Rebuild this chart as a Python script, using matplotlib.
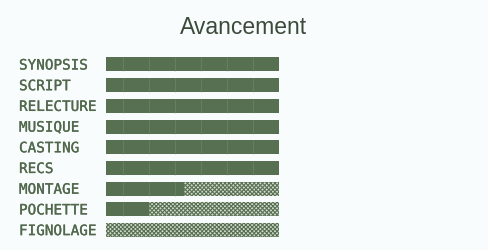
import matplotlib
matplotlib.use("Agg")
import matplotlib.pyplot as plt
import matplotlib.patheffects as pe

# Project progress per stage (percent complete)
stages = ["SYNOPSIS", "SCRIPT", "RELECTURE", "MUSIQUE", "CASTING",
          "RECS", "MONTAGE", "POCHETTE", "FIGNOLAGE"]
progress = [100, 100, 100, 100, 100, 100, 45, 25, 0]
total = 100
grid_ticks = [10, 25, 40, 55, 70, 85]

bg = "#f8fcfc"
done_color = "#587052"
todo_color = "#d2dbcf"
text_color = "#51684d"
title_color = "#3b4a39"
bar_h = 0.68

plt.rcParams["hatch.linewidth"] = 0.8
plt.rcParams["hatch.color"] = done_color

fig = plt.figure(figsize=(4.89, 2.51), dpi=100, facecolor=bg)
ax = fig.add_axes([106 / 489, 1 - 241.4 / 251, 173 / 489, 186.3 / 251])
ax.set_facecolor(bg)

ys = list(range(len(stages)))
remaining = [total - p for p in progress]
ax.barh(ys, progress, height=bar_h, color=done_color, linewidth=0, zorder=2)
ax.barh(ys, remaining, left=progress, height=bar_h, color=todo_color,
        edgecolor=done_color, hatch="xxxxxxxx", linewidth=0, zorder=2)

# faint segment separators, drawn only across each bar
for y in ys:
    ax.vlines(grid_ticks, y - bar_h / 2, y + bar_h / 2, color="#7a9075",
              lw=0.6, alpha=0.55, zorder=3)

ax.set_xlim(0, total)
ax.set_ylim(len(stages) - 0.5, -0.5)
ax.set_xticks([])
ax.set_yticks([])
for s in ax.spines.values():
    s.set_visible(False)

thicken = [pe.withStroke(linewidth=0.2, foreground=text_color)]
for y, name in zip(ys, stages):
    fig.text(19 / 489, 1 - (66.5 + 20.7 * y) / 251, name, family="DejaVu Sans Mono",
             fontsize=10.3, color=text_color, va="center", ha="left",
             path_effects=thicken)

fig.text(244 / 489, 1 - 27 / 251, "Avancement", family="Liberation Sans",
         fontsize=16.5, color=title_color, ha="center", va="center")

fig.savefig("out.png", dpi=100, facecolor=bg)
